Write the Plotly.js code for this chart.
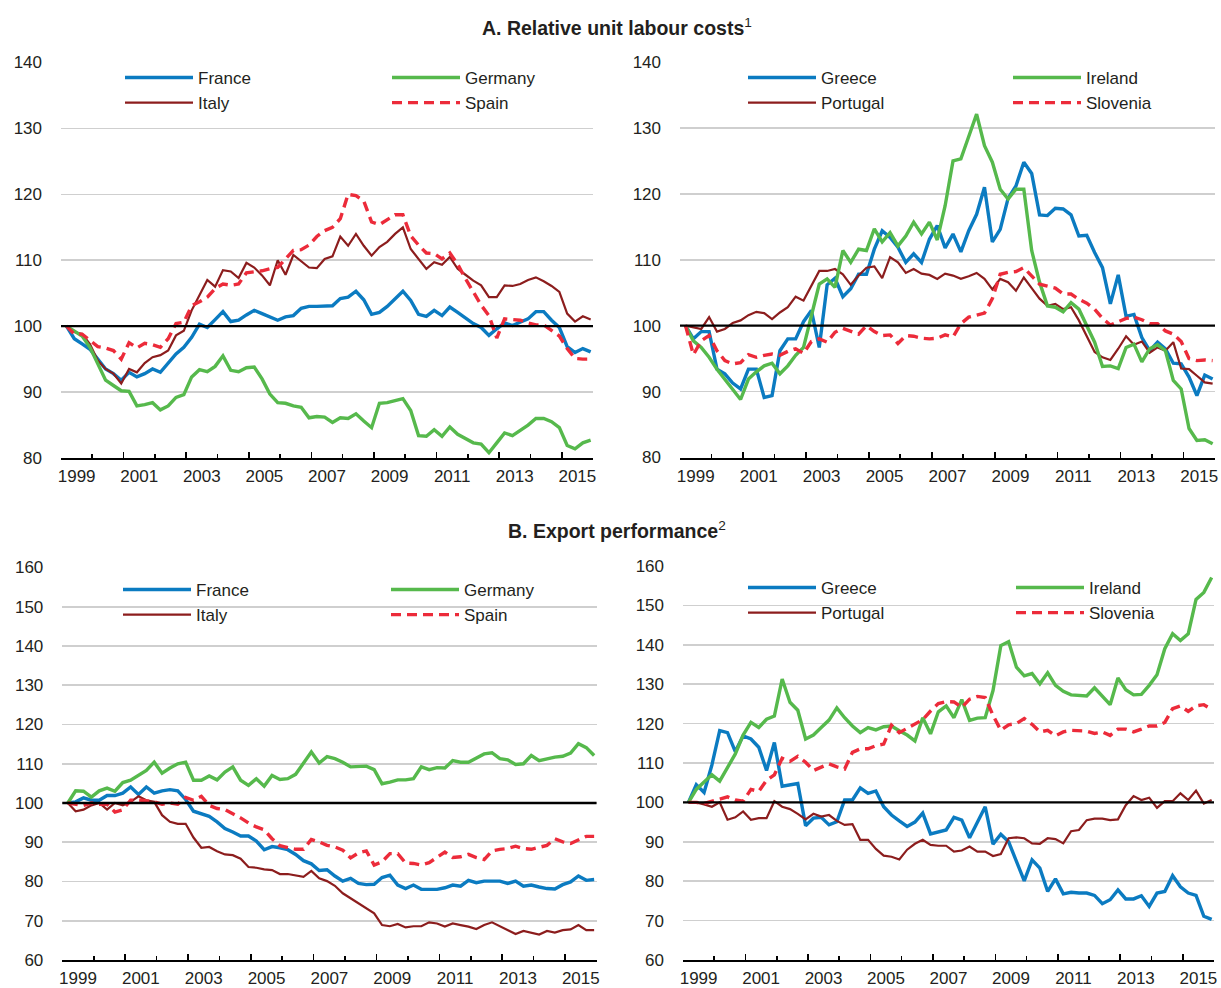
<!DOCTYPE html>
<html><head><meta charset="utf-8">
<script src="https://cdn.plot.ly/plotly-3.0.1.min.js"></script>
<style>html,body{margin:0;padding:0;background:#fff}#chart{width:1221px;height:988px}</style>
</head><body><div id="chart"></div>
<script>
// ---- categories (quarters 1999Q1 .. 2015Q4) ----
const quarters = [];
for (let yr = 1999; yr <= 2015; yr++) for (let q = 1; q <= 4; q++) quarters.push(yr + 'Q' + q);
const tickYears = [1999, 2001, 2003, 2005, 2007, 2009, 2011, 2013, 2015];
const tickLabels = tickYears.map(String);
const baseValue = 100;

// ---- A. Relative unit labour costs ----
const rulcFrance = [100,98.1,97.3,96.5,95.0,93.5,92.8,91.8,93.0,92.3,92.8,93.5,93.0,94.5,95.8,96.8,98.3,100.3,99.8,101.0,102.2,100.7,100.9,101.7,102.4,101.9,101.4,100.9,101.4,101.6,102.7,103.0,103.0,103.1,103.1,104.2,104.4,105.3,104.0,101.8,102.1,103.0,104.2,105.3,103.9,101.8,101.5,102.4,101.6,102.9,102.1,101.2,100.4,99.8,98.6,99.6,100.5,100.1,100.6,101.1,102.2,102.2,100.9,99.8,96.9,96.0,96.6,96.1];
const rulcGermany = [100,99.2,98.5,96.8,94.3,91.8,91.0,90.2,90.1,87.9,88.1,88.4,87.3,87.9,89.2,89.6,92.3,93.4,93.1,93.9,95.5,93.3,93.1,93.7,93.8,92.0,89.7,88.4,88.3,87.9,87.7,86.1,86.3,86.2,85.4,86.1,86.0,86.7,85.6,84.6,88.3,88.4,88.7,89.0,87.2,83.4,83.3,84.3,83.3,84.7,83.6,82.9,82.3,82.1,80.8,82.3,83.8,83.4,84.2,85.0,86.0,86.0,85.5,84.6,81.9,81.4,82.3,82.7];
const rulcItaly = [100,99.1,98.8,97.3,94.8,93.5,92.8,91.3,93.5,93.0,94.4,95.3,95.6,96.3,98.6,99.3,102.4,104.6,107.0,106.0,108.5,108.3,107.3,109.6,108.9,107.7,106.2,110.0,107.8,110.8,109.8,108.9,108.8,110.2,110.6,113.6,112.2,114.0,112.2,110.7,112.0,112.8,114.0,115.0,111.7,110.2,108.7,109.7,109.3,110.5,108.7,107.8,106.9,106.2,104.4,104.4,106.2,106.1,106.4,107.0,107.4,106.8,106.1,105.2,101.9,100.7,101.5,101.0];
const rulcSpain = [100,98.8,98.8,97.8,96.9,96.7,96.3,95.0,97.5,96.7,97.4,97.2,96.8,98.1,100.4,100.6,103.1,103.7,104.4,105.7,106.4,106.2,106.4,108.1,108.2,108.4,108.7,108.9,110.2,111.5,111.6,112.3,113.6,114.5,115.0,116.3,120.0,119.8,119.0,115.8,115.4,116.1,116.9,116.9,113.7,112.3,111.1,111.0,110.2,111.1,109.4,107.2,105.2,103.2,101.6,98.2,101.1,101.0,100.9,100.5,100.2,100.2,99.3,98.5,96.6,95.1,95.0,95.0];
const rulcGreece = [100,98.0,99.1,99.1,93.4,92.7,91.3,90.4,93.4,93.4,89.1,89.4,96.2,98.0,98.0,100.6,102.3,96.7,106.2,107.2,104.4,105.6,107.8,107.8,111.6,114.4,113.4,111.9,109.6,110.9,109.6,113.1,115.2,111.8,113.9,111.2,114.4,116.9,121.0,112.7,114.6,119.3,121.2,124.8,123.1,116.8,116.7,117.8,117.7,116.8,113.6,113.7,111.1,108.8,103.3,107.7,101.4,101.7,98.2,96.2,97.5,96.5,94.3,94.2,92.2,89.4,92.5,91.9];
const rulcIreland = [100,97.7,96.7,95.2,93.4,91.9,90.4,88.8,91.9,93.0,93.9,94.3,92.7,93.9,95.5,96.7,101.5,106.3,107.1,105.8,111.4,109.6,111.6,111.4,114.7,112.7,114.1,112.1,113.6,115.7,113.9,115.7,113.0,118.2,125.0,125.3,128.7,132.1,127.3,124.8,120.7,119.2,120.7,120.7,111.4,106.6,103.0,102.8,102.1,103.5,102.5,100.1,97.5,93.8,93.9,93.5,96.7,97.2,94.5,96.5,97.1,96.2,91.7,90.4,84.4,82.6,82.7,82.1];
const rulcPortugal = [100,99.7,99.5,101.3,99.1,99.5,100.4,100.8,101.6,102.1,101.9,101.0,102.0,102.8,104.4,103.8,106.0,108.3,108.3,108.6,107.8,106.2,107.6,108.8,109.0,107.2,110.4,109.6,108.0,108.6,107.9,107.7,107.1,107.9,107.6,107.1,107.5,108.0,107.1,105.5,107.1,106.6,105.3,107.3,105.7,104.1,103.0,103.3,102.5,102.8,100.8,98.5,96.0,95.2,94.8,96.5,98.4,97.1,97.6,95.9,96.7,96.2,97.5,93.5,93.4,92.4,91.4,91.2];
const rulcSlovenia = [100,95.6,97.7,98.5,96.2,94.7,94.2,94.4,95.6,95.2,95.5,95.7,95.5,96.1,96.5,95.8,97.6,98.0,97.5,99.0,99.6,99.1,98.7,100.0,99.1,98.5,98.6,97.3,98.5,98.4,98.1,98.0,98.1,98.6,98.3,100.3,101.3,101.6,101.9,104.1,107.8,108.1,108.2,108.8,107.6,106.3,106.0,105.7,104.8,104.8,104.0,103.4,102.5,101.1,100.1,100.6,101.1,101.3,100.9,100.3,100.3,99.2,98.7,97.6,95.0,94.7,94.8,94.7];

// ---- B. Export performance ----
const expFrance = [100,100.3,101.3,100.7,100.7,101.9,101.9,102.5,104.1,102.2,104.1,102.5,103.1,103.4,103.1,100.9,97.9,97.3,96.6,95.2,93.5,92.6,91.6,91.6,90.3,88.1,88.9,88.6,88.1,86.9,85.3,84.5,82.8,83.0,81.4,80.1,80.8,79.5,79.2,79.3,81.0,81.6,79.1,78.2,79.1,78.0,78.0,78.0,78.4,79.1,78.8,80.3,79.7,80.1,80.1,80.1,79.5,80.1,78.8,79.1,78.6,78.2,78.1,79.2,79.9,81.4,80.3,80.5];
const expGermany = [100,103.1,103.0,101.5,103.1,103.8,103.0,105.2,105.8,107.0,108.3,110.4,107.6,108.9,110.0,110.4,105.8,105.8,106.9,105.9,107.9,109.2,105.8,104.5,106.2,104.3,107.0,106.0,106.2,107.3,110.2,113.0,110.2,111.8,111.3,110.4,109.2,109.2,109.4,108.5,104.9,105.3,105.9,105.9,106.2,109.2,108.5,109.0,108.9,110.8,110.4,110.4,111.4,112.5,112.8,111.3,111.0,109.8,110.0,112.1,110.8,111.3,111.7,111.9,112.7,115.1,114.1,112.1];
const expItaly = [100,97.9,98.3,99.4,100.0,98.3,100.0,99.4,100.3,101.7,100.7,100.3,96.9,95.2,94.7,94.7,91.2,88.6,88.8,87.7,86.9,86.7,85.8,83.7,83.5,83.1,82.9,81.9,81.9,81.6,81.2,82.7,80.8,80.1,78.9,77.0,75.7,74.4,73.1,71.9,68.9,68.6,69.2,68.3,68.6,68.6,69.6,69.3,68.5,69.3,68.9,68.5,67.9,68.9,69.6,68.6,67.6,66.6,67.4,67.0,66.5,67.4,67.0,67.6,67.8,68.9,67.6,67.6];
const expSpain = [100,99.7,99.4,100.0,99.7,99.7,97.7,98.3,100.7,100.8,100.5,100.3,99.7,100.0,99.7,101.4,100.7,101.7,99.4,98.6,98.3,97.3,96.2,94.9,93.9,93.2,90.9,89.1,88.6,88.2,88.2,90.7,90.1,89.2,88.8,88.0,86.0,87.3,87.8,84.2,85.0,87.1,87.1,84.7,84.6,84.2,84.8,86.1,87.5,86.1,86.3,86.9,86.1,85.6,87.8,88.2,88.4,89.0,88.4,88.2,88.6,89.2,90.9,90.1,89.7,90.7,91.5,91.5];
const expGreece = [100,104.5,102.5,109.5,118.2,117.7,112.9,116.9,116.1,114.0,108.1,115.2,104.1,104.4,104.8,94.1,96.0,96.2,94.3,95.1,100.6,100.6,103.7,102.3,102.9,98.9,96.8,95.3,93.9,95.0,97.3,92.0,92.6,93.0,96.2,95.5,91.0,94.9,98.9,89.4,91.9,90.0,85.0,80.1,85.4,83.3,77.4,80.6,76.8,77.2,77.0,77.0,76.4,74.3,75.3,77.8,75.5,75.5,76.3,73.6,77.0,77.4,81.4,78.6,77.0,76.4,71.1,70.3];
const expIreland = [100,103.3,105.2,107.0,105.4,109.0,112.3,117.1,120.3,119.0,121.1,121.9,131.3,125.4,123.4,116.1,117.1,119.0,120.9,124.0,121.5,119.4,117.7,119.0,118.4,119.2,119.4,118.2,117.1,115.6,121.5,117.4,123.0,124.5,121.5,126.1,120.8,121.4,121.5,128.4,139.8,140.8,134.3,132.1,132.7,130.1,132.9,129.7,128.2,127.3,127.2,127.0,129.1,126.9,124.8,131.6,128.6,127.3,127.4,129.7,132.4,139.0,142.8,141.1,142.8,151.5,153.3,157.1];
const expPortugal = [100,100.0,99.5,98.9,100.0,95.6,96.2,97.7,95.6,96.0,96.0,100.3,98.9,98.3,97.1,95.7,97.1,96.4,96.8,95.3,94.3,94.5,90.5,90.5,88.2,86.5,86.2,85.5,88.0,89.5,90.5,89.2,89.0,89.0,87.5,87.8,88.8,87.5,87.5,86.4,86.9,90.9,91.1,90.9,89.6,89.5,90.9,90.7,89.6,92.7,93.0,95.5,95.9,95.9,95.5,95.7,99.3,101.6,100.6,101.2,98.6,100.3,100.3,102.3,100.6,103.0,99.7,100.6];
const expSlovenia = [100,100.0,99.7,100.2,100.8,101.4,100.6,100.3,103.3,102.8,105.6,107.0,111.2,110.4,111.7,110.2,108.1,109.0,109.8,109.0,108.5,112.7,113.6,113.6,114.4,114.8,119.6,117.7,118.8,120.0,121.0,123.2,125.1,125.6,125.5,124.1,126.2,126.9,126.6,122.1,118.3,119.7,120.0,121.3,119.8,117.9,118.3,116.9,117.9,118.3,118.3,118.1,117.5,117.9,117.0,118.6,118.6,117.9,118.6,119.4,119.4,120.3,123.8,124.5,123.1,124.5,124.8,123.6];

// quarter -> decimal year position
const xPos = quarters.map(s => +s.slice(0, 4) + (+s.slice(5) - 0.3) / 4);

const FONT = "'Liberation Sans', Arial, sans-serif";
const TXT = '#231f20';
const C = {
  blue:  {color: '#0b7bc1', width: 3.4},
  green: {color: '#56b94c', width: 3.4},
  dred:  {color: '#8c1d1d', width: 2.2},
  red:   {color: '#ec2b3a', width: 3.4, dash: '10px,6px'}
};

function tr(name, y, style, ax, lg) {
  return {type: 'scatter', mode: 'lines', name: name, x: xPos, y: y,
          line: Object.assign({}, style), xaxis: 'x' + ax, yaxis: 'y' + ax,
          legend: lg, hoverinfo: 'skip'};
}
// invisible carrier traces so the label axes are drawn
function carrier(xa, ya) {
  return {type: 'scatter', mode: 'lines', x: [null], y: [null], xaxis: xa, yaxis: ya,
          showlegend: false, hoverinfo: 'skip'};
}

const data = [
  tr('France', rulcFrance, C.blue, '', 'legend'),
  tr('Italy', rulcItaly, C.dred, '', 'legend'),
  tr('Germany', rulcGermany, C.green, '', 'legend2'),
  tr('Spain', rulcSpain, C.red, '', 'legend2'),
  tr('Greece', rulcGreece, C.blue, '2', 'legend3'),
  tr('Portugal', rulcPortugal, C.dred, '2', 'legend3'),
  tr('Ireland', rulcIreland, C.green, '2', 'legend4'),
  tr('Slovenia', rulcSlovenia, C.red, '2', 'legend4'),
  tr('France', expFrance, C.blue, '3', 'legend5'),
  tr('Italy', expItaly, C.dred, '3', 'legend5'),
  tr('Germany', expGermany, C.green, '3', 'legend6'),
  tr('Spain', expSpain, C.red, '3', 'legend6'),
  tr('Greece', expGreece, C.blue, '4', 'legend7'),
  tr('Portugal', expPortugal, C.dred, '4', 'legend7'),
  tr('Ireland', expIreland, C.green, '4', 'legend8'),
  tr('Slovenia', expSlovenia, C.red, '4', 'legend8'),
  carrier('x5', 'y'), carrier('x6', 'y2'), carrier('x7', 'y3'), carrier('x8', 'y4')
];

const W = 1221, H = 988;
const oddYears = [], evenYears = [];
for (let y = 1999; y <= 2016; y++) (y % 2 ? oddYears : evenYears).push(y);

// tick-mark axis (years as boundaries)
function xAx(l, r, anchor) {
  return {domain: [l / W, r / W], anchor: anchor, range: [1999, 2016],
          tickmode: 'array', tickvals: oddYears, showticklabels: false,
          ticks: 'inside', ticklen: 6, tickwidth: 1.6, tickcolor: '#000',
          minor: {tickmode: 'array', tickvals: evenYears, ticks: 'inside', ticklen: 4,
                  tickwidth: 1.6, tickcolor: '#000', showgrid: false},
          showgrid: false, zeroline: false, showline: true, linecolor: '#000', linewidth: 2,
          fixedrange: true};
}
// label axis (year labels centred in the year)
function xLab(over, anchor) {
  return {overlaying: over, anchor: anchor, side: 'bottom', range: [1999, 2016],
          tickmode: 'array', tickvals: tickYears.map(y => y + 0.5), ticktext: tickLabels,
          ticks: '', ticklabelstandoff: 6, showgrid: false, zeroline: false, showline: false,
          tickfont: {family: FONT, size: 17, color: TXT}, fixedrange: true};
}
function yAx(top, bot, anchor, lo, hi) {
  const tv = []; for (let v = lo; v <= hi; v += 10) tv.push(v);
  return {domain: [1 - bot / H, 1 - top / H], anchor: anchor, range: [lo, hi],
          tickmode: 'array', tickvals: tv, ticks: '', ticklabelstandoff: 18,
          showgrid: true, gridcolor: '#cfcfcf', gridwidth: 1.6, zeroline: false, showline: false,
          tickfont: {family: FONT, size: 17, color: TXT}, fixedrange: true};
}
function lg(xpx, ypx) {
  return {x: xpx / W, y: 1 - ypx / H, xanchor: 'left', yanchor: 'top', orientation: 'v',
          bgcolor: 'rgba(0,0,0,0)', borderwidth: 0, itemwidth: 68, tracegroupgap: 0,
          font: {family: FONT, size: 17, color: TXT}};
}
function hline(ax) {
  return {type: 'line', xref: 'x' + ax + ' domain', x0: 0, x1: 1, yref: 'y' + ax,
          y0: baseValue, y1: baseValue, line: {color: '#000', width: 2.4}, layer: 'above'};
}

const TFONT = {family: FONT, size: 19.5, color: TXT};
const layout = {
  width: W, height: H, margin: {l: 0, r: 0, t: 0, b: 0},
  paper_bgcolor: '#fff', plot_bgcolor: 'rgba(0,0,0,0)',
  font: {family: FONT, color: TXT},
  xaxis: xAx(61, 593, 'y'),
  yaxis: yAx(62.5, 458, 'x', 80, 140),
  xaxis2: xAx(680, 1215, 'y2'),
  yaxis2: yAx(62, 457.5, 'x2', 80, 140),
  xaxis3: xAx(62.3, 596.5, 'y3'),
  yaxis3: yAx(567.5, 960, 'x3', 60, 160),
  xaxis4: xAx(683, 1214, 'y4'),
  yaxis4: yAx(566, 960, 'x4', 60, 160),
  xaxis5: xLab('x', 'y'), xaxis6: xLab('x2', 'y2'),
  xaxis7: xLab('x3', 'y3'), xaxis8: xLab('x4', 'y4'),
  legend: lg(120, 60), legend2: lg(387, 60),
  legend3: lg(743, 60), legend4: lg(1008, 60),
  legend5: lg(118, 572), legend6: lg(386, 572),
  legend7: lg(743, 570), legend8: lg(1011, 570),
  shapes: [hline(''), hline('2'), hline('3'), hline('4')],
  annotations: [
    {text: '<b>A. Relative unit labour costs</b><sup>1</sup>', xref: 'paper', yref: 'paper',
     x: 617 / W, y: 1 - 27 / H, xanchor: 'center', yanchor: 'middle', showarrow: false, font: TFONT},
    {text: '<b>B. Export performance</b><sup>2</sup>', xref: 'paper', yref: 'paper',
     x: 617 / W, y: 1 - 530 / H, xanchor: 'center', yanchor: 'middle', showarrow: false, font: TFONT}
  ],
  showlegend: true
};

Plotly.newPlot('chart', data, layout, {displayModeBar: false, staticPlot: true});
</script>
</body></html>
